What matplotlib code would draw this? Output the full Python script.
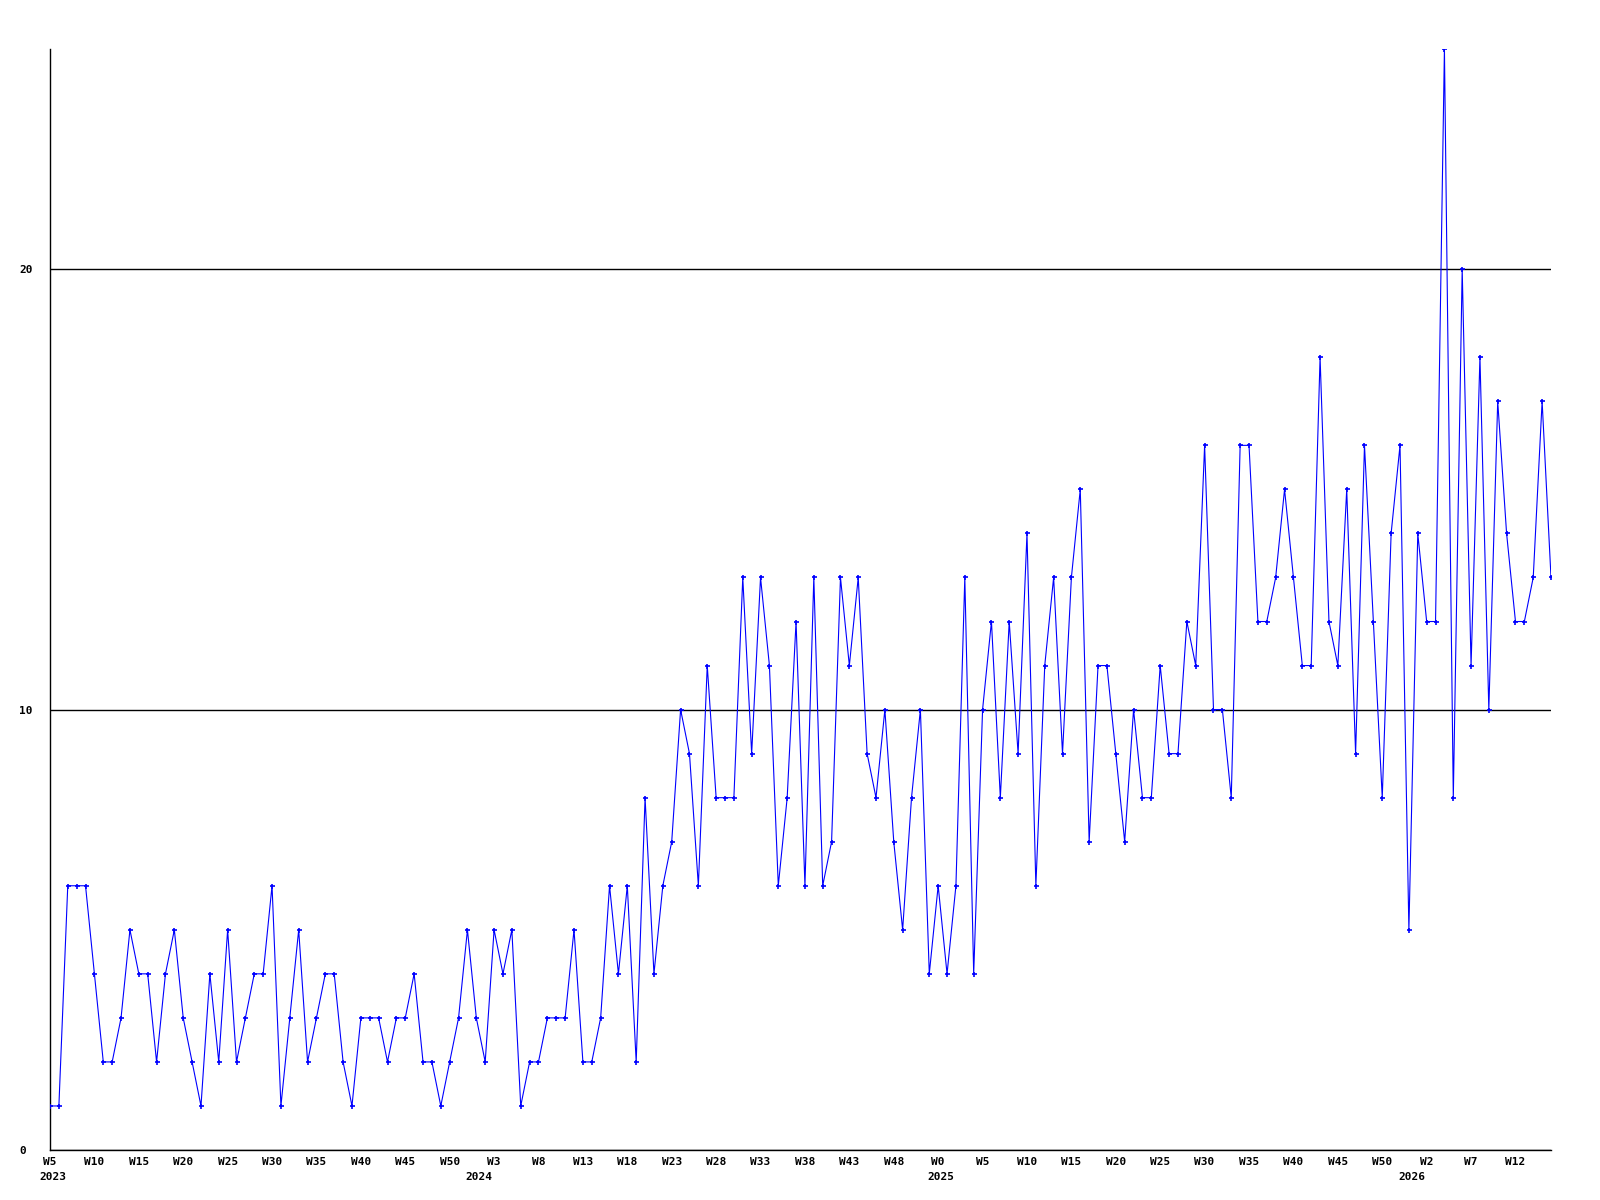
import matplotlib
matplotlib.use("Agg")
import matplotlib.pyplot as plt
import matplotlib.transforms as mtransforms

# weekly counts, 2023 W5 .. 2026 W16
values = [1, 1, 6, 6, 6, 4, 2, 2, 3, 5, 4, 4, 2, 4, 5, 3, 2, 1, 4, 2,
          5, 2, 3, 4, 4, 6, 1, 3, 5, 2, 3, 4, 4, 2, 1, 3, 3, 3, 2, 3,
          3, 4, 2, 2, 1, 2, 3, 5, 3, 2, 5, 4, 5, 1, 2, 2, 3, 3, 3, 5,
          2, 2, 3, 6, 4, 6, 2, 8, 4, 6, 7, 10, 9, 6, 11, 8, 8, 8, 13, 9,
          13, 11, 6, 8, 12, 6, 13, 6, 7, 13, 11, 13, 9, 8, 10, 7, 5, 8, 10, 4,
          6, 4, 6, 13, 4, 10, 12, 8, 12, 9, 14, 6, 11, 13, 9, 13, 15, 7, 11, 11,
          9, 7, 10, 8, 8, 11, 9, 9, 12, 11, 16, 10, 10, 8, 16, 16, 12, 12, 13, 15,
          13, 11, 11, 18, 12, 11, 15, 9, 16, 12, 8, 14, 16, 5, 14, 12, 12, 25, 8, 20,
          11, 18, 10, 17, 14, 12, 12, 13, 17, 13]

week_labels = ["W5", "W10", "W15", "W20", "W25", "W30", "W35", "W40", "W45", "W50",
               "W3", "W8", "W13", "W18", "W23", "W28", "W33", "W38", "W43", "W48",
               "W0", "W5", "W10", "W15", "W20", "W25", "W30", "W35", "W40", "W45", "W50",
               "W2", "W7", "W12"]
years = ["2023", "2024", "2025", "2026"]
year_start = [0, 48, 100, 153]  # week index where each year begins

x = list(range(len(values)))

fig = plt.figure(figsize=(16, 12), dpi=100)
ax = fig.add_axes([50 / 1600, 1 - 1150 / 1200, 1501 / 1600, 1101 / 1200])

ax.plot(x, values, color="#0000ff", linewidth=0.8, marker="+", markersize=3.6,
        markeredgewidth=1.2, zorder=3)

ax.set_xlim(0, len(values) - 1)
ax.set_ylim(0, 25)

ax.set_yticks([0, 10, 20])
ax.set_yticklabels(["0", "10", "20"])
ax.yaxis.grid(True, color="black", linewidth=1.0)
ax.set_axisbelow(True)

ax.set_xticks(x[::5])
ax.set_xticklabels(week_labels)

font = dict(family="DejaVu Sans Mono", weight="bold", size=8)
for lab in ax.get_xticklabels() + ax.get_yticklabels():
    lab.set_fontfamily(font["family"])
    lab.set_fontweight(font["weight"])
    lab.set_fontsize(font["size"])
for lab in ax.get_yticklabels():
    lab.set_ha("left")

ax.tick_params(axis="x", length=0, pad=5)
ax.tick_params(axis="y", length=0, pad=22)

for s in ["top", "right"]:
    ax.spines[s].set_visible(False)
for s in ["left", "bottom"]:
    ax.spines[s].set_color("black")
    ax.spines[s].set_linewidth(1.0)

trans = mtransforms.blended_transform_factory(ax.transData, ax.transAxes)
for pos, yr in zip(year_start, years):
    ax.annotate(yr, xy=(pos, 0), xycoords=trans, xytext=(-11 * 0.72, -19.5),
                textcoords="offset points", ha="left", va="center", **font)

fig.savefig("out.png", dpi=100)
